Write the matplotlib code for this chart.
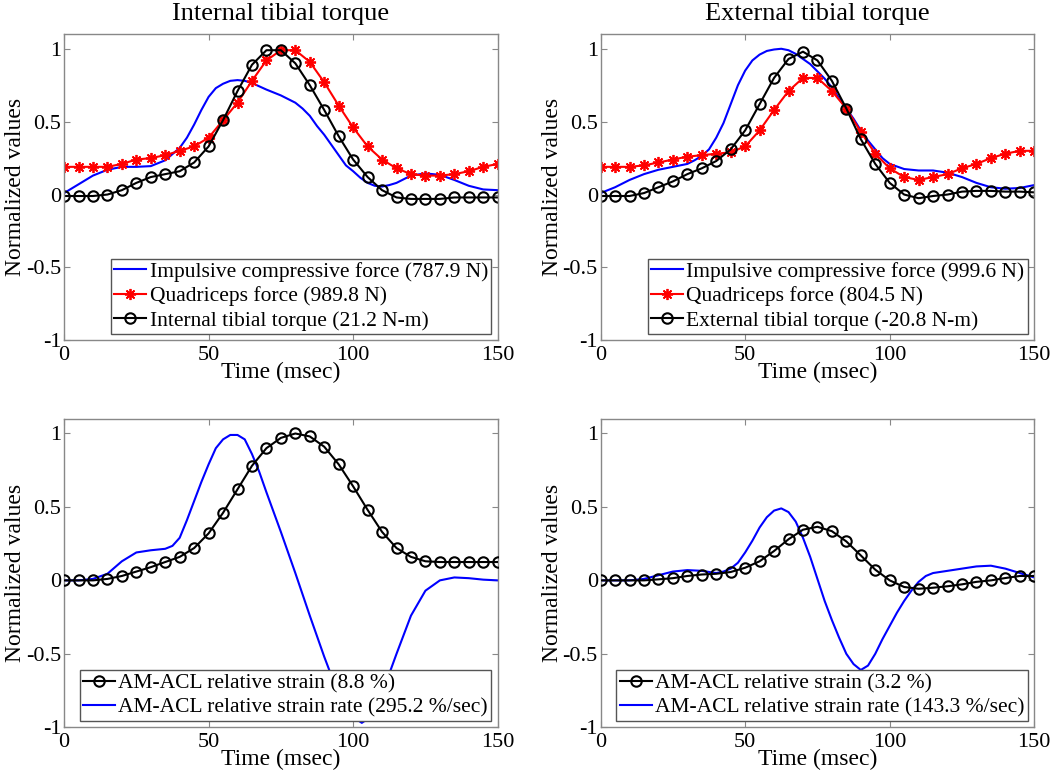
import matplotlib
matplotlib.use('Agg')
import matplotlib.pyplot as plt
import numpy as np

plt.rcParams['font.family'] = ['Liberation Serif', 'DejaVu Serif']

# time at the markers (msec)
t_mark = np.arange(0, 155, 5)

# --- internal tibial torque trial ---
int_force_t = [0, 5, 10, 15, 20, 25, 30, 35, 40, 42.5, 45, 47.5, 50, 52.5, 55, 57.5,
               60, 62.5, 65, 70, 75, 80, 82.5, 85, 87.5, 90, 92.5, 95, 97.5, 100,
               102.5, 105, 107.5, 110, 112.5, 115, 120, 125, 130, 135, 140, 145, 150]
int_force = [0.01, 0.07, 0.13, 0.17, 0.19, 0.19, 0.195, 0.235, 0.32, 0.39, 0.48, 0.58,
             0.67, 0.73, 0.76, 0.78, 0.785, 0.78, 0.765, 0.72, 0.68, 0.63, 0.59, 0.54,
             0.47, 0.41, 0.34, 0.27, 0.20, 0.16, 0.115, 0.08, 0.06, 0.055, 0.065,
             0.08, 0.13, 0.145, 0.135, 0.10, 0.06, 0.035, 0.03]
int_quad = [0.19, 0.19, 0.19, 0.19, 0.21, 0.24, 0.25, 0.27, 0.30, 0.33, 0.39,
            0.51, 0.63, 0.78, 0.92, 0.99, 0.99, 0.91, 0.77, 0.61, 0.46, 0.33,
            0.24, 0.18, 0.14, 0.13, 0.13, 0.14, 0.16, 0.19, 0.21]
int_torque = [-0.01, -0.01, -0.01, 0.0, 0.03, 0.08, 0.12, 0.14, 0.16, 0.22, 0.33,
              0.51, 0.71, 0.89, 0.99, 0.99, 0.90, 0.75, 0.58, 0.40, 0.24, 0.12,
              0.03, -0.02, -0.03, -0.03, -0.03, -0.02, -0.02, -0.02, -0.02]
int_strain = [0.0, 0.0, 0.0, 0.01, 0.03, 0.06, 0.09, 0.125, 0.16, 0.22, 0.32,
              0.46, 0.62, 0.78, 0.90, 0.97, 1.0, 0.98, 0.91, 0.79, 0.64, 0.48,
              0.33, 0.22, 0.16, 0.13, 0.125, 0.125, 0.125, 0.125, 0.125]
int_rate_t = [0, 5, 10, 15, 20, 25, 30, 35, 37.5, 40, 42.5, 45, 47.5, 50, 52.5, 55,
              57.5, 60, 62.5, 65, 67.5, 70, 75, 80, 85, 90, 95, 100, 103, 106, 110,
              115, 120, 125, 130, 135, 140, 145, 150]
int_rate = [0.0, 0.0, 0.01, 0.045, 0.13, 0.19, 0.205, 0.215, 0.235, 0.29, 0.41, 0.54,
            0.67, 0.79, 0.90, 0.96, 0.99, 0.99, 0.96, 0.86, 0.74, 0.60, 0.33, 0.05,
            -0.24, -0.52, -0.78, -0.93, -0.97, -0.93, -0.77, -0.50, -0.24, -0.07,
            0.0, 0.02, 0.015, 0.005, 0.0]

# --- external tibial torque trial ---
ext_force_t = [0, 5, 10, 15, 20, 25, 30, 32.5, 35, 37.5, 40, 42.5, 45, 47.5, 50, 52.5,
               55, 57.5, 60, 62.5, 65, 67.5, 70, 72.5, 75, 77.5, 80, 82.5, 85, 87.5,
               90, 92.5, 95, 97.5, 100, 105, 110, 115, 120, 125, 130, 135, 140, 145, 150]
ext_force = [0.01, 0.05, 0.10, 0.14, 0.17, 0.19, 0.21, 0.235, 0.265, 0.31, 0.39, 0.49,
             0.62, 0.75, 0.85, 0.92, 0.96, 0.985, 0.995, 1.0, 0.99, 0.965, 0.93, 0.895,
             0.845, 0.795, 0.735, 0.66, 0.59, 0.52, 0.44, 0.37, 0.31, 0.25, 0.21,
             0.175, 0.165, 0.165, 0.15, 0.12, 0.08, 0.05, 0.04, 0.045, 0.065]
ext_quad = [0.19, 0.19, 0.19, 0.20, 0.22, 0.24, 0.26, 0.27, 0.28, 0.29, 0.33,
            0.44, 0.58, 0.71, 0.80, 0.80, 0.71, 0.59, 0.43, 0.28, 0.18, 0.12,
            0.10, 0.12, 0.14, 0.18, 0.21, 0.25, 0.28, 0.30, 0.30]
ext_torque = [-0.01, -0.01, -0.01, 0.01, 0.05, 0.09, 0.14, 0.18, 0.23, 0.31, 0.44,
              0.62, 0.80, 0.93, 0.98, 0.92, 0.78, 0.59, 0.38, 0.21, 0.08, 0.0,
              -0.025, -0.01, 0.0, 0.02, 0.025, 0.025, 0.02, 0.02, 0.015]
ext_strain = [0.0, 0.0, 0.0, 0.0, 0.007, 0.015, 0.03, 0.04, 0.045, 0.057, 0.086,
              0.13, 0.20, 0.28, 0.345, 0.365, 0.335, 0.265, 0.17, 0.073, 0.0,
              -0.045, -0.057, -0.05, -0.04, -0.027, -0.01, 0.0, 0.016, 0.03, 0.03]
ext_rate_t = [0, 5, 10, 15, 20, 25, 30, 35, 40, 42.5, 45, 47.5, 50, 52.5, 55, 57.5,
              60, 62.5, 65, 67.5, 70, 72.5, 75, 77.5, 80, 82.5, 85, 87.5, 90, 92.5,
              95, 97.5, 100, 102.5, 105, 107.5, 110, 112.5, 115, 120, 125, 130, 135,
              140, 145, 150]
ext_rate = [0.0, 0.0, 0.0, 0.01, 0.035, 0.06, 0.07, 0.065, 0.05, 0.06, 0.08, 0.12,
            0.19, 0.27, 0.36, 0.43, 0.475, 0.49, 0.465, 0.40, 0.29, 0.16, 0.01,
            -0.14, -0.27, -0.39, -0.50, -0.57, -0.61, -0.58, -0.50, -0.40, -0.31,
            -0.22, -0.14, -0.07, -0.01, 0.03, 0.05, 0.065, 0.08, 0.095, 0.10, 0.08,
            0.05, 0.02]

titles = ['Internal tibial torque', 'External tibial torque']
top_labels = [['Impulsive compressive force (787.9 N)', 'Quadriceps force (989.8 N)',
               'Internal tibial torque (21.2 N-m)'],
              ['Impulsive compressive force (999.6 N)', 'Quadriceps force (804.5 N)',
               'External tibial torque (-20.8 N-m)']]
bot_labels = [['AM-ACL relative strain (8.8 %)', 'AM-ACL relative strain rate (295.2 %/sec)'],
              ['AM-ACL relative strain (3.2 %)', 'AM-ACL relative strain rate (143.3 %/sec)']]

fig = plt.figure(figsize=(10.5, 7.77), dpi=100)
lefts = [0.061, 0.572]
w = 0.413
axes_top = [fig.add_axes([l, 0.562, w, 0.394]) for l in lefts]
axes_bot = [fig.add_axes([l, 0.064, w, 0.397]) for l in lefts]


def style(ax):
    ax.set_xlim(0, 150)
    ax.set_ylim(-1, 1.1)
    ax.set_xticks([0, 50, 100, 150])
    ax.set_yticks([-1, -0.5, 0, 0.5, 1])
    ax.set_yticklabels(['-1', '-0.5', '0', '0.5', '1'])
    ax.tick_params(direction='in', top=True, right=True, length=4, color='#888888',
                   labelsize=16)
    ax.tick_params(axis='x', pad=4)
    ax.tick_params(axis='y', pad=2)
    for s in ax.spines.values():
        s.set_color('#888888')
        s.set_linewidth(1.0)
    ax.set_xlabel('Time (msec)', fontsize=17, labelpad=-2)
    ax.set_ylabel('Normalized values', fontsize=17, labelpad=0)


def legend(ax, handles):
    leg = ax.legend(handles=handles, loc='lower right', fontsize=15.5, handlelength=1.5,
                    handletextpad=0.15, borderpad=0.15, labelspacing=0.2,
                    borderaxespad=0.3, fancybox=False, framealpha=1)
    leg.get_frame().set_edgecolor('#555555')
    leg.get_frame().set_linewidth(1.0)


star = dict(marker=(8, 2, 0), markersize=8, markeredgewidth=1.3, lw=1.5)
circ = dict(marker='o', markerfacecolor='none', markersize=7.5, markeredgewidth=1.5, lw=1.5)

for i, ax in enumerate(axes_top):
    ft = [int_force_t, ext_force_t][i]
    force = [int_force, ext_force][i]
    quad = [int_quad, ext_quad][i]
    torque = [int_torque, ext_torque][i]
    h1, = ax.plot(ft, force, color='#0000ff', lw=1.5, label=top_labels[i][0])
    h2, = ax.plot(t_mark, quad, color='#ff0000', label=top_labels[i][1], **star)
    h3, = ax.plot(t_mark, torque, color='black', label=top_labels[i][2], **circ)
    style(ax)
    ax.set_title(titles[i], fontsize=19, pad=10)
    legend(ax, [h1, h2, h3])

for i, ax in enumerate(axes_bot):
    strain = [int_strain, ext_strain][i]
    rt = [int_rate_t, ext_rate_t][i]
    rate = [int_rate, ext_rate][i]
    h1, = ax.plot(t_mark, strain, color='black', label=bot_labels[i][0], zorder=3, **circ)
    h2, = ax.plot(rt, rate, color='#0000ff', lw=1.5, label=bot_labels[i][1], zorder=2)
    style(ax)
    legend(ax, [h1, h2])

fig.savefig('out.png', dpi=100)
